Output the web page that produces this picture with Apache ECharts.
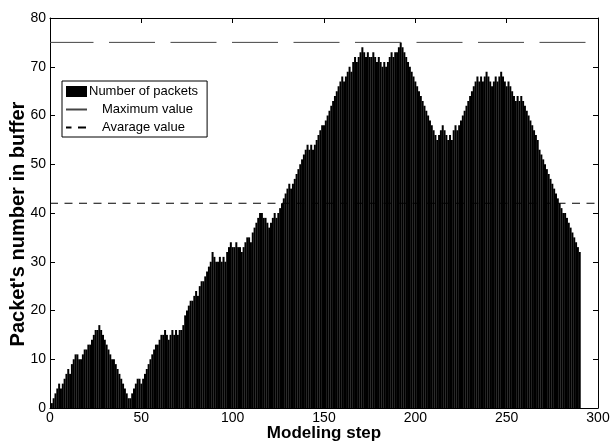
<!DOCTYPE html>
<html>
<head>
<meta charset="utf-8">
<script src="https://cdn.jsdelivr.net/npm/echarts@6/dist/echarts.min.js"></script>
<style>
html,body{margin:0;padding:0;background:#fff;}
#chart{width:610px;height:441px;}
</style>
</head>
<body>
<div id="chart"></div>
<script>
// Number of packets in buffer for modeling steps 1..290
const packets = [
  1,2,3,4,5,4,5,6,7,8,
  7,9,10,11,11,10,10,11,12,12,
  13,13,14,15,16,16,17,16,15,14,
  13,12,11,10,10,9,8,7,6,5,
  4,3,2,2,3,4,5,6,6,5,
  6,7,8,9,10,11,12,13,13,14,
  15,15,16,15,14,15,16,15,16,15,
  16,16,17,19,20,21,22,22,23,24,
  23,25,26,26,27,28,29,30,32,31,
  30,30,31,30,31,30,32,33,34,33,
  33,34,33,33,32,33,34,35,35,34,
  36,37,38,39,40,40,39,39,38,37,
  38,39,40,39,40,41,42,43,44,45,
  46,45,46,47,48,49,50,51,52,53,
  54,53,54,53,54,55,56,57,58,58,
  59,60,61,62,63,64,65,66,67,68,
  67,68,69,70,69,71,72,71,72,73,
  74,73,72,73,72,72,73,72,71,72,
  71,70,71,70,71,72,73,72,73,73,
  74,75,74,73,72,71,70,69,68,67,
  66,65,64,63,62,61,60,59,58,57,
  56,55,56,57,58,57,56,55,56,55,
  57,58,57,58,59,60,61,62,63,64,
  65,66,67,68,67,68,67,68,69,68,
  67,66,67,68,67,68,69,68,67,66,
  67,66,65,64,63,64,63,64,63,62,
  61,60,59,58,57,56,55,53,52,51,
  50,49,48,47,46,45,44,43,42,41,
  40,40,39,38,37,36,35,34,33,32
];
const maxValue = 75;
const avgValue = 42;
const xRange = [0, 300];
const yRange = [0, 80];
const seriesNames = ['Number of packets', 'Maximum value', 'Avarage value'];

const FONT = '"Liberation Sans", Arial, Helvetica, sans-serif';
const barData = packets.map((v, i) => [i + 1, v]);

const chart = echarts.init(document.getElementById('chart'), null, {renderer: 'canvas'});

function frameAxis(extra) {
  return Object.assign({
    axisLine: {show: true, onZero: false, lineStyle: {color: '#000', width: 1}},
    axisTick: {show: true, inside: true, length: 5, lineStyle: {color: '#000', width: 1}},
    splitLine: {show: false}
  }, extra);
}

chart.setOption({
  animation: false,
  backgroundColor: '#fff',
  grid: {left: 50, right: 12, top: 18, bottom: 33, containLabel: false, outerBoundsMode: 'none'},
  legend: {
    orient: 'vertical',
    left: 62,
    top: 81,
    padding: [4, 9, 3, 3],
    itemGap: 5,
    itemWidth: 21,
    itemHeight: 11,
    borderColor: '#000',
    borderWidth: 1,
    backgroundColor: '#fff',
    borderRadius: 0,
    textStyle: {fontFamily: FONT, fontSize: 13, color: '#000', padding: [0, 0, 0, -3]},
    data: [
      {name: seriesNames[0], icon: 'rect'},
      {name: seriesNames[1], itemStyle: {opacity: 0}, textStyle: {padding: [0, 0, 0, 10]}},
      {name: seriesNames[2], itemStyle: {opacity: 0}, textStyle: {padding: [0, 0, 0, 10]}}
    ]
  },
  xAxis: [
    frameAxis({
      type: 'value', min: xRange[0], max: xRange[1], interval: 50, position: 'bottom',
      name: 'Modeling step', nameLocation: 'middle', nameGap: 17, nameMoveOverlap: false,
      nameTextStyle: {fontFamily: FONT, fontSize: 17, fontWeight: 'bold', color: '#000'},
      axisLabel: {fontFamily: FONT, fontSize: 14, color: '#000', margin: 3}
    }),
    frameAxis({
      type: 'value', min: xRange[0], max: xRange[1], interval: 50, position: 'top',
      axisLabel: {show: false}
    })
  ],
  yAxis: [
    frameAxis({
      type: 'value', min: yRange[0], max: yRange[1], interval: 10, position: 'left',
      name: "Packet's number in buffer", nameLocation: 'middle', nameGap: 22, nameMoveOverlap: false,
      nameTextStyle: {fontFamily: FONT, fontSize: 20, fontWeight: 'bold', color: '#000',
                      padding: [0, 22, 0, 0]},
      axisLabel: {fontFamily: FONT, fontSize: 14, color: '#000', margin: 4}
    }),
    frameAxis({
      type: 'value', min: yRange[0], max: yRange[1], interval: 10, position: 'right',
      axisLabel: {show: false}
    })
  ],
  series: [
    {
      name: seriesNames[0], type: 'bar', xAxisIndex: 0, yAxisIndex: 0,
      data: barData, barWidth: 2, itemStyle: {color: '#000'}, silent: true
    },
    {
      name: seriesNames[1], type: 'line', xAxisIndex: 0, yAxisIndex: 0,
      data: [[xRange[0], maxValue], [xRange[1], maxValue]],
      symbol: 'none', itemStyle: {color: '#444'},
      lineStyle: {color: '#444', width: 1, type: [46, 15.5], dashOffset: 2.5}, z: 3
    },
    {
      name: seriesNames[2], type: 'line', xAxisIndex: 0, yAxisIndex: 0,
      data: [[xRange[0], avgValue], [xRange[1], avgValue]],
      symbol: 'none', itemStyle: {color: '#000'},
      lineStyle: {color: '#000', width: 1, type: [8, 6.5]}, z: 3
    }
  ]
});
</script>
</body>
</html>
